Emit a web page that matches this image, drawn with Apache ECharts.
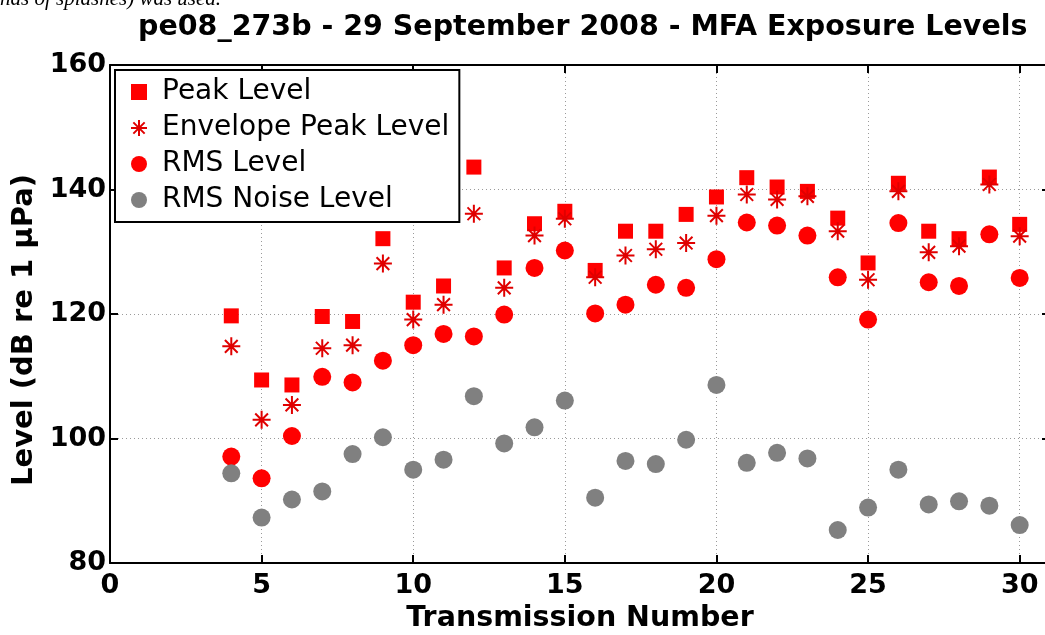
<!DOCTYPE html>
<html>
<head>
<meta charset="utf-8">
<script src="https://cdn.jsdelivr.net/npm/echarts@6/dist/echarts.min.js"></script>
<style>
html,body{margin:0;padding:0;background:#fff;}
#chart{width:1045px;height:635px;}
</style>
</head>
<body>
<div id="chart"></div>
<script>
// ---- data ----
const transmission = [4,5,6,7,8,9,10,11,12,13,14,15,16,17,18,19,20,21,22,23,24,25,26,27,28,29,30];
const peakLevel = [119.7,109.4,108.6,119.6,118.8,132.1,121.9,124.5,143.6,127.4,134.5,136.5,127.0,133.3,133.3,136.0,138.8,141.9,140.4,139.7,135.4,128.2,141.0,133.3,132.1,142.0,134.4];
const envelopePeakLevel = [114.8,103.0,105.4,114.5,115.0,128.1,119.1,121.5,136.1,124.2,132.6,135.3,125.9,129.4,130.4,131.4,135.8,139.2,138.4,138.9,133.3,125.5,139.7,129.9,130.9,140.8,132.5];
const rmsLevel = [97.1,93.6,100.4,109.9,109.0,112.5,115.0,116.8,116.4,119.9,127.4,130.2,120.1,121.5,124.7,124.2,128.8,134.7,134.2,132.6,125.9,119.1,134.6,125.1,124.5,132.8,125.8];
const rmsNoiseLevel = [94.4,87.3,90.2,91.5,97.5,100.2,95.0,96.6,106.8,99.2,101.8,106.1,90.5,96.4,95.9,99.8,108.6,96.1,97.7,96.8,85.3,88.9,95.0,89.4,89.9,89.2,86.1];
const seriesNames = ['Peak Level','Envelope Peak Level','RMS Level','RMS Noise Level'];
const titleText = 'pe08_273b - 29 September 2008 - MFA Exposure Levels';
const xName = 'Transmission Number';
const yName = 'Level (dB re 1 \u03bcPa)';
const topFragment = 'nds of splashes) was used.';

function pairs(vals){ return transmission.map((t,i)=>[t, vals[i]]); }

const FONT = 'DejaVu Sans';
const starPath = 'path://M10,0L10,20M0,10L20,10M2.93,2.93L17.07,17.07M17.07,2.93L2.93,17.07';
const squarePath = 'path://M0,0L10,0L10,10L0,10Z';

const chart = echarts.init(document.getElementById('chart'), null, {renderer:'canvas'});

const splitStyle = {show:true, lineStyle:{color:'#9a9a9a', type:[1,3], width:1}};

chart.setOption({
  animation:false,
  backgroundColor:'#fff',
  title:{
    text:titleText, left:133, top:8,
    textStyle:{fontFamily:FONT, fontWeight:'bold', fontSize:28.5, color:'#000'}
  },
  graphic:[{
    type:'text', left:0, top:-11, silent:true,
    style:{text:topFragment, font:'italic 21px "Liberation Serif"', fill:'#000'}
  }],
  legend:{
    orient:'vertical', left:115, top:70,
    data:seriesNames,
    backgroundColor:'#fff', borderColor:'#000', borderWidth:2,
    padding:[8,10,8,15],
    itemWidth:36, itemHeight:16, itemGap:8,
    symbolKeepAspect:true,
    textStyle:{fontFamily:FONT, fontSize:28, color:'#000'},
    selectedMode:false
  },
  grid:{left:110, top:65, width:940, height:498, containLabel:false, outerBoundsMode:'none'},
  xAxis:[{
    type:'value', min:0, max:31, interval:5,
    name:xName, nameLocation:'middle', nameGap:38,
    nameTextStyle:{fontFamily:FONT, fontWeight:'bold', fontSize:28.5, color:'#000'},
    axisLine:{show:true, onZero:false, lineStyle:{color:'#000', width:2}},
    axisTick:{show:true, inside:true, length:8, lineStyle:{color:'#000', width:2}},
    axisLabel:{margin:9, fontFamily:FONT, fontWeight:'bold', fontSize:27, color:'#000',
      formatter:v=> (v%5===0 ? String(v) : ''), showMaxLabel:true},
    splitLine:splitStyle
  },{
    type:'value', position:'top', min:0, max:31, interval:5,
    axisLine:{show:true, onZero:false, lineStyle:{color:'#000', width:2}},
    axisTick:{show:true, inside:true, length:8, lineStyle:{color:'#000', width:2}},
    axisLabel:{show:false}, splitLine:{show:false}
  }],
  yAxis:[{
    type:'value', min:80, max:160, interval:20,
    name:yName, nameLocation:'middle', nameGap:67, nameRotate:90,
    nameTextStyle:{fontFamily:FONT, fontWeight:'bold', fontSize:29, color:'#000', padding:[0,32,0,0]},
    axisLine:{show:true, onZero:false, lineStyle:{color:'#000', width:2}},
    axisTick:{show:true, inside:true, length:8, lineStyle:{color:'#000', width:2}},
    axisLabel:{margin:4, fontFamily:FONT, fontWeight:'bold', fontSize:27, color:'#000'},
    splitLine:splitStyle
  },{
    type:'value', position:'right', min:80, max:160, interval:20,
    axisLine:{show:true, onZero:false, lineStyle:{color:'#000', width:2}},
    axisTick:{show:true, inside:true, length:8, lineStyle:{color:'#000', width:2}},
    axisLabel:{show:false}, splitLine:{show:false}
  }],
  series:[{
    name:seriesNames[0], type:'scatter', data:pairs(peakLevel),
    symbol:squarePath, symbolSize:15, symbolKeepAspect:true,
    itemStyle:{color:'#ff0000', opacity:1}
  },{
    name:seriesNames[1], type:'scatter', data:pairs(envelopePeakLevel),
    symbol:starPath, symbolSize:18, symbolKeepAspect:true,
    itemStyle:{color:'rgba(0,0,0,0)', borderColor:'#e00000', borderWidth:2, opacity:1}
  },{
    name:seriesNames[2], type:'scatter', data:pairs(rmsLevel),
    symbol:'circle', symbolSize:18,
    itemStyle:{color:'#ff0000', opacity:1}
  },{
    name:seriesNames[3], type:'scatter', data:pairs(rmsNoiseLevel),
    symbol:'circle', symbolSize:18,
    itemStyle:{color:'#808080', opacity:1}
  }]
});
</script>
</body>
</html>
